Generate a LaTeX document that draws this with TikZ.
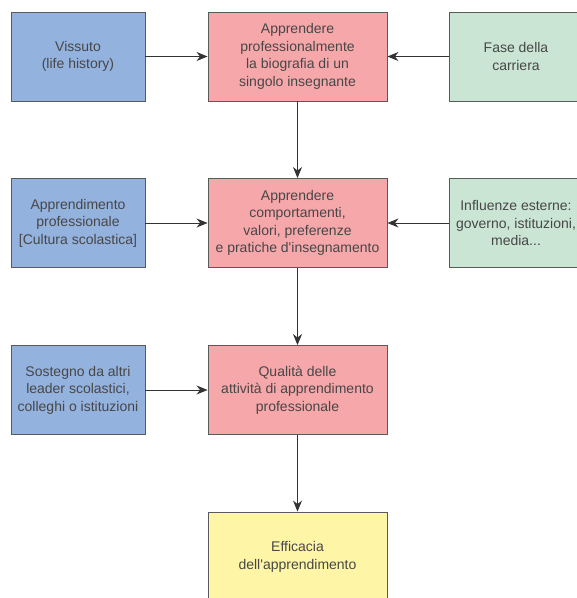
\documentclass[tikz,border=0pt]{standalone}
\usepackage{fontspec}
\setmainfont{Liberation Sans}
\usetikzlibrary{arrows.meta}
\definecolor{cblue}{HTML}{94B2DE}
\definecolor{cpink}{HTML}{F6A7AA}
\definecolor{cgreen}{HTML}{CAE5D3}
\definecolor{cyellow}{HTML}{FFF5A6}
\definecolor{cborder}{HTML}{5A5A5A}
\definecolor{ctext}{HTML}{474747}
\begin{document}
\begin{tikzpicture}[x=1pt,y=-1pt,
  box/.style={draw=cborder, line width=0.9pt, inner sep=0pt, align=center,
    text=ctext, font=\fontsize{14}{17.5}\selectfont},
  side/.style={box, minimum width=134pt, minimum height=89pt},
  mid/.style={box, fill=cpink, minimum width=179pt, minimum height=89pt},
  arr/.style={draw=black!80, line width=0.9pt, -{Stealth[length=11pt,width=9pt,inset=3.5pt]}}
]
\useasboundingbox (0,0) rectangle (577,598);
\clip (0,0) rectangle (577,598);
% row 1
\node[side, fill=cblue] (a1) at (78,56.5) {Vissuto\\(life history)};
\node[mid] (m1) at (297.5,56.5) {Apprendere\\professionalmente\\la biografia di un\\singolo insegnante};
\node[side, fill=cgreen] (g1) at (516,56.5) {Fase della\\carriera};
% row 2
\node[side, fill=cblue] (a2) at (78,223) {Apprendimento\\professionale\\{[Cultura scolastica]}};
\node[mid] (m2) at (297.5,223) {Apprendere\\comportamenti,\\valori, preferenze\\e pratiche d\textquotesingle insegnamento};
\node[side, fill=cgreen] (g2) at (516,223) {Influenze esterne:\\governo, istituzioni,\\media...};
% row 3
\node[side, fill=cblue] (a3) at (78,390) {Sostegno da altri\\leader scolastici,\\colleghi o istituzioni};
\node[mid] (m3) at (297.5,390) {Qualità delle\\attività di apprendimento\\professionale};
% row 4
\node[mid, fill=cyellow, minimum height=100pt] (m4) at (297.5,562) {};
\node[box, draw=none] (t4) at (297.5,557) {Efficacia\\dell\textquotesingle apprendimento};
% connectors
\draw[arr] (a1) -- (m1);
\draw[arr] (g1) -- (m1);
\draw[arr] (a2) -- (m2);
\draw[arr] (g2) -- (m2);
\draw[arr] (a3) -- (m3);
\draw[arr] (m1) -- (m2);
\draw[arr] (m2) -- (m3);
\draw[arr] (m3) -- (m4);
\end{tikzpicture}
\end{document}
